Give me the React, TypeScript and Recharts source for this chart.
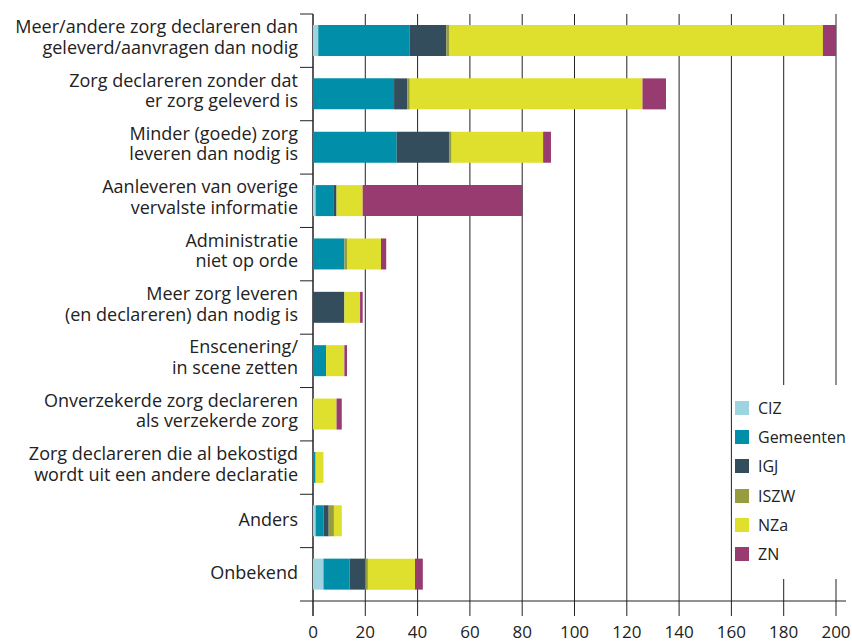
import { Bar, BarChart, CartesianGrid, Customized, XAxis, YAxis } from 'recharts';

const categories = [
  'Meer/andere zorg declareren dan\ngeleverd/aanvragen dan nodig',
  'Zorg declareren zonder dat\ner zorg geleverd is',
  'Minder (goede) zorg\nleveren dan nodig is',
  'Aanleveren van overige\nvervalste informatie',
  'Administratie\nniet op orde',
  'Meer zorg leveren\n(en declareren) dan nodig is',
  'Enscenering/\nin scene zetten',
  'Onverzekerde zorg declareren\nals verzekerde zorg',
  'Zorg declareren die al bekostigd\nwordt uit een andere declaratie',
  'Anders',
  'Onbekend',
];

const ciz = [2, 0, 0, 1, 0, 0, 0, 0, 0, 1, 4];
const gemeenten = [35, 31, 32, 7, 12, 0, 5, 0, 1, 3, 10];
const igj = [14, 5, 20, 1, 0, 12, 0, 0, 0, 2, 6];
const iszw = [1, 1, 1, 0, 1, 0, 0, 0, 0, 2, 1];
const nza = [143, 89, 35, 10, 13, 6, 7, 9, 3, 3, 18];
const zn = [5, 9, 3, 61, 2, 1, 1, 2, 0, 0, 3];

const xTicks = [0, 20, 40, 60, 80, 100, 120, 140, 160, 180, 200];

const series = [
  { key: 'CIZ', color: '#9ed4df' },
  { key: 'Gemeenten', color: '#008ea8' },
  { key: 'IGJ', color: '#344d5c' },
  { key: 'ISZW', color: '#979d3e' },
  { key: 'NZa', color: '#dfdf2d' },
  { key: 'ZN', color: '#973b70' },
];

const data = categories.map((name, i) => ({
  name,
  CIZ: ciz[i],
  Gemeenten: gemeenten[i],
  IGJ: igj[i],
  ISZW: iszw[i],
  NZa: nza[i],
  ZN: zn[i],
}));

const W = 852;
const H = 643;
const TOP = 14;
const LEFT = 313;
const RIGHT = 836;
const BOTTOM = 601;
const BAND = (BOTTOM - TOP) / categories.length;
const FONT = '"Open Sans", "Noto Sans", sans-serif';
const INK = '#222';

const CategoryTick = ({ y, payload }: any) => {
  const lines = String(payload.value).split('\n');
  const base = lines.length === 1 ? [5] : [-7.5, 13];
  return (
    <g>
      <line x1={300} x2={LEFT} y1={y - BAND / 2} y2={y - BAND / 2} stroke={INK} strokeWidth={1} />
      <text textAnchor="end" fontFamily={FONT} fontSize={18} fill={INK}>
        {lines.map((l, i) => (
          <tspan key={i} x={298} y={y + base[i]}>
            {l}
          </tspan>
        ))}
      </text>
    </g>
  );
};

const AxisLines = () => (
  <g>
    <line x1={300} x2={846} y1={BOTTOM} y2={BOTTOM} stroke={INK} strokeWidth={1} />
    <line x1={LEFT} x2={LEFT} y1={TOP} y2={BOTTOM + 15} stroke={INK} strokeWidth={1} />
  </g>
);

const LegendBox = () => (
  <div
    style={{
      position: 'absolute',
      left: 733,
      top: 385,
      width: 117,
      background: '#fff',
      padding: '8px 0 10px 2px',
    }}
  >
    {series.map((s) => (
      <div key={s.key} style={{ display: 'flex', alignItems: 'center', height: 29.3 }}>
        <span style={{ width: 14, height: 14, background: s.color, display: 'inline-block', marginRight: 9 }} />
        <span style={{ fontFamily: FONT, fontSize: 16, color: INK }}>{s.key}</span>
      </div>
    ))}
  </div>
);

export default function App() {
  return (
    <div style={{ position: 'absolute', left: 0, top: 0, width: W, height: H, background: '#fff' }}>
      <BarChart
        width={W}
        height={H}
        data={data}
        layout="vertical"
        margin={{ top: TOP, right: W - RIGHT, bottom: 0, left: 0 }}
        barSize={31}
      >
        <CartesianGrid horizontal={false} vertical stroke={INK} strokeWidth={1} />
        <XAxis
          type="number"
          domain={[0, 200]}
          ticks={xTicks}
          height={H - BOTTOM}
          axisLine={false}
          tickSize={15}
          tickMargin={10}
          tickLine={{ stroke: INK }}
          tick={{ fontFamily: FONT, fontSize: 17, fill: INK }}
          interval={0}
        />
        <YAxis
          type="category"
          dataKey="name"
          width={LEFT}
          axisLine={false}
          tickLine={false}
          tick={<CategoryTick />}
          interval={0}
        />
        {series.map((s) => (
          <Bar key={s.key} dataKey={s.key} stackId="a" fill={s.color} isAnimationActive={false} />
        ))}
        <Customized component={AxisLines} />
      </BarChart>
      <LegendBox />
    </div>
  );
}
